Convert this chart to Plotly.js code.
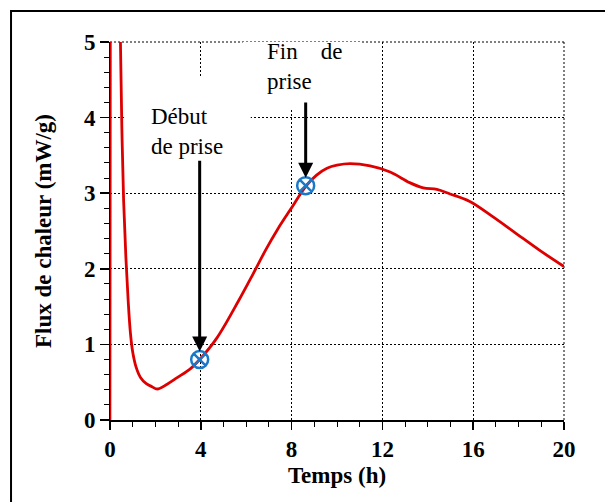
<!DOCTYPE html>
<html>
<head>
<meta charset="utf-8">
<script src="https://cdn.plot.ly/plotly-3.0.1.min.js"></script>
<style>
  html, body { margin: 0; padding: 0; background: #fff; }
  #chart { width: 605px; height: 502px; }
</style>
</head>
<body>
<div id="chart"></div>
<script>
// Heat flow curve (time in h, flux in mW/g)
const timeH = [0, 0.02, 0.42, 0.46, 0.52, 0.6, 0.7, 0.8, 0.9, 1.0, 1.15, 1.35, 1.6, 1.85, 2.08, 2.5, 2.96, 3.55, 3.95, 4.72, 5.67, 6.3, 6.86, 7.4, 7.94, 8.65, 9.1, 9.56, 10.0, 10.58, 11.46, 12.34, 13.2, 13.8, 14.4, 14.98, 15.85, 16.86, 17.88, 18.9, 20];
const fluxMWg = [0, 6, 6, 5, 3.9, 2.9, 2.15, 1.58, 1.15, 0.9, 0.7, 0.56, 0.48, 0.44, 0.41, 0.47, 0.56, 0.68, 0.8, 1.09, 1.58, 1.93, 2.25, 2.53, 2.78, 3.1, 3.24, 3.33, 3.37, 3.39, 3.36, 3.28, 3.14, 3.07, 3.05, 2.99, 2.89, 2.69, 2.47, 2.25, 2.03];
const spikeEnd = 4; // first points: vertical spike at the origin

// Setting points
const settingX = [3.95, 8.62];
const settingY = [0.8, 3.1];
const settingLabels = ["Début<br>de prise", "Fin\u00A0\u00A0\u00A0\u00A0de<br>prise"];

const xTicks = [0, 4, 8, 12, 16, 20];
const yTicks = [0, 1, 2, 3, 4, 5];

const serif = '"Liberation Serif", serif';
const red = 'rgb(222,0,0)';
const blue = '#1a78c8';

const traces = [
  {
    x: timeH.slice(0, spikeEnd), y: fluxMWg.slice(0, spikeEnd), type: 'scatter', mode: 'lines',
    line: { color: red, width: 2.6 }, hoverinfo: 'skip', showlegend: false
  },
  {
    x: timeH.slice(spikeEnd - 1), y: fluxMWg.slice(spikeEnd - 1), type: 'scatter', mode: 'lines',
    line: { color: red, width: 2.8, shape: 'spline', smoothing: 1.0 },
    hoverinfo: 'skip', showlegend: false
  },
  {
    x: settingX, y: settingY, type: 'scatter', mode: 'markers',
    marker: { symbol: 'circle-x-open', size: 17, color: blue, line: { width: 2.5, color: blue } },
    hoverinfo: 'skip', showlegend: false
  }
];

const dotted = { color: '#000', width: 1, dash: '2px,2px' };

const layout = {
  width: 605, height: 502,
  margin: { l: 110, r: 41, t: 42, b: 82 },
  paper_bgcolor: '#fff', plot_bgcolor: '#fff',
  font: { family: serif, color: '#000' },
  xaxis: {
    range: [0, 20], tickvals: xTicks, ticktext: xTicks.map(String),
    showgrid: true, gridcolor: '#000', gridwidth: 1, griddash: '2px,2px',
    zeroline: false, showline: true, linecolor: '#000', linewidth: 1.5,
    ticks: 'outside', ticklen: 8, tickwidth: 1.5, tickcolor: '#000',
    minor: { dtick: 1, ticks: 'outside', ticklen: 5, tickwidth: 1, tickcolor: '#000', showgrid: false },
    tickfont: { family: serif, size: 23, weight: 'bold', color: '#000' },
    title: { text: 'Temps (h)', font: { family: serif, size: 23, weight: 'bold', color: '#000' }, standoff: 6 },
    layer: 'below traces', fixedrange: true
  },
  yaxis: {
    range: [0, 5], tickvals: yTicks, ticktext: yTicks.map(String),
    showgrid: true, gridcolor: '#000', gridwidth: 1, griddash: '2px,2px',
    zeroline: false, showline: true, linecolor: '#000', linewidth: 1,
    ticks: 'outside', ticklen: 9, tickwidth: 1.5, tickcolor: '#000',
    minor: { dtick: 0.2, ticks: 'outside', ticklen: 5, tickwidth: 1, tickcolor: '#000', showgrid: false },
    tickfont: { family: serif, size: 23, weight: 'bold', color: '#000' },
    title: { text: 'Flux de chaleur (mW/g)', font: { family: serif, size: 23, weight: 'bold', color: '#000' }, standoff: 25 },
    layer: 'below traces', fixedrange: true
  },
  shapes: [
    // grid lines at the range edges (top and right)
    { type: 'line', xref: 'paper', yref: 'paper', x0: 0, x1: 1, y0: 1, y1: 1, line: dotted, layer: 'below' },
    { type: 'line', xref: 'paper', yref: 'paper', x0: 1, x1: 1, y0: 0, y1: 1, line: dotted, layer: 'below' },
    // outer frame
    { type: 'rect', xref: 'paper', yref: 'paper', x0: -0.218, x1: 1.3, y0: -0.4, y1: 1.082,
      line: { color: '#000', width: 2 }, fillcolor: 'rgba(0,0,0,0)', layer: 'above' },
    // white label backgrounds hiding grid lines
    { type: 'rect', xref: 'x', yref: 'y', x0: 0.66, x1: 6.2, y0: 3.4, y1: 4.54,
      line: { width: 0 }, fillcolor: '#fff', layer: 'between' },
    { type: 'rect', xref: 'x', yref: 'y', x0: 5.85, x1: 11.1, y0: 4.1, y1: 5.05,
      line: { width: 0 }, fillcolor: '#fff', layer: 'between' }
  ],
  annotations: [
    { xref: 'x', yref: 'y', x: 1.71, y: 4.2, xanchor: 'left', yanchor: 'top', align: 'left',
      text: settingLabels[0], showarrow: false, font: { family: serif, size: 23, color: '#000' } },
    { xref: 'x', yref: 'paper', x: 6.85, y: 1.013, xanchor: 'left', yanchor: 'top', align: 'left',
      text: settingLabels[1], showarrow: false, font: { family: serif, size: 23, color: '#000' } },
    { xref: 'x', yref: 'y', x: settingX[0], y: settingY[0], axref: 'x', ayref: 'y', ax: settingX[0], ay: 3.45,
      text: '', showarrow: true, arrowhead: 2, arrowsize: 1, arrowwidth: 3, arrowcolor: '#000', standoff: 8 },
    { xref: 'x', yref: 'y', x: settingX[1], y: settingY[1], axref: 'x', ayref: 'y', ax: settingX[1], ay: 4.22,
      text: '', showarrow: true, arrowhead: 2, arrowsize: 1, arrowwidth: 3, arrowcolor: '#000', standoff: 8 }
  ]
};

Plotly.newPlot('chart', traces, layout, { staticPlot: true, displayModeBar: false });
</script>
</body>
</html>
